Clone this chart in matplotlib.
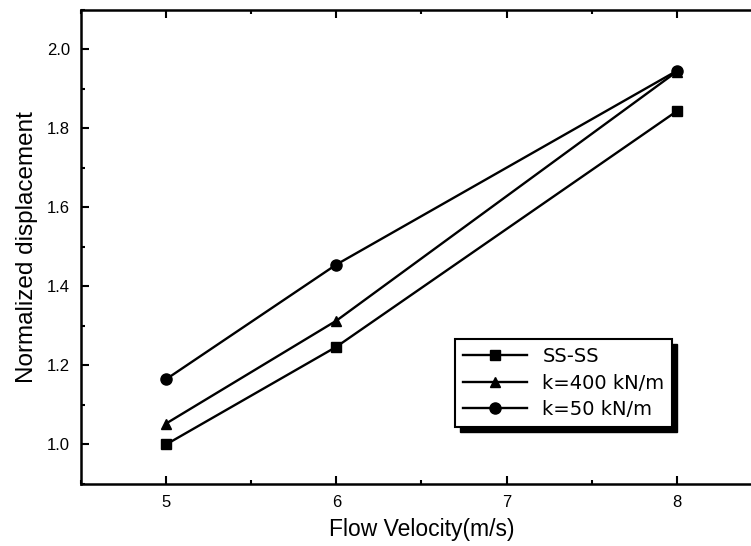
import matplotlib.pyplot as plt
from matplotlib.patches import Rectangle
from matplotlib.ticker import MultipleLocator
from matplotlib.transforms import IdentityTransform

plt.rcParams['font.family'] = ['Liberation Sans', 'DejaVu Sans']

velocity = [5, 6, 8]
ss_ss = [1.0, 1.247, 1.843]
k400 = [1.053, 1.313, 1.943]
k50 = [1.165, 1.455, 1.945]

labels = ["SS-SS", "k=400 kN/m", "k=50 kN/m"]

fig = plt.figure(figsize=(7.51, 5.46), dpi=100)
# the right edge of the frame runs off the picture, as in the original scan
ax = fig.add_axes([81 / 751, 1 - 484 / 546, 681 / 751, 474.5 / 546])

ax.plot(velocity, ss_ss, color="black", lw=1.7, marker="s", ms=7, label=labels[0])
ax.plot(velocity, k400, color="black", lw=1.7, marker="^", ms=7, label=labels[1])
ax.plot(velocity, k50, color="black", lw=1.7, marker="o", ms=8, label=labels[2])

ax.set_xlim(4.5, 8.5)
ax.set_ylim(0.9, 2.1)
ax.xaxis.set_major_locator(MultipleLocator(1))
ax.xaxis.set_minor_locator(MultipleLocator(0.5))
ax.yaxis.set_major_locator(MultipleLocator(0.2))
ax.yaxis.set_minor_locator(MultipleLocator(0.1))
ax.tick_params(which="both", direction="in", top=True, right=True, width=1.5, labelsize=12)
ax.tick_params(which="major", length=6, pad=8)
ax.tick_params(which="minor", length=3)
for s in ax.spines.values():
    s.set_linewidth(1.8)

ax.set_xlabel("Flow Velocity(m/s)", fontsize=16.5, labelpad=6)
ax.set_ylabel("Normalized displacement", fontsize=17.5, labelpad=6)

leg = ax.legend(loc="lower left", bbox_to_anchor=(0.549, 0.120),
                prop={"family": "DejaVu Sans", "size": 14},
                frameon=True, fancybox=False, edgecolor="black", framealpha=1,
                handlelength=3.3, handletextpad=0.8, borderpad=0.4, labelspacing=0.4,
                borderaxespad=0)
leg.get_frame().set_linewidth(1.5)
leg.set_zorder(6)

# solid black drop shadow behind the legend box
fig.canvas.draw()
bb = leg.get_window_extent()
shadow = Rectangle((bb.x0 + 5, bb.y0 - 5), bb.width, bb.height, transform=IdentityTransform(),
                   facecolor="black", edgecolor="black", zorder=5, clip_on=False)
ax.add_artist(shadow)

fig.savefig("out.png", dpi=100)
